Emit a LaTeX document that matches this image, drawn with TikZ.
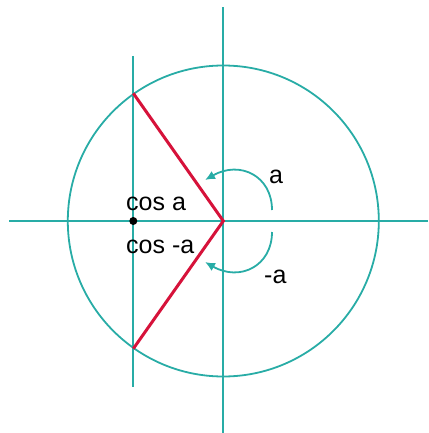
\documentclass[tikz,border=0pt]{standalone}
\usepackage{fontspec}
\setmainfont{Liberation Sans}
\usetikzlibrary{arrows.meta}
\definecolor{teal1}{RGB}{40,172,166}
\definecolor{red1}{RGB}{214,18,58}
\tikzset{
  axis/.style={draw=teal1, line width=1.8pt},
  radius line/.style={draw=red1, line width=3pt},
  angle arrow/.style={draw=teal1, line width=1.8pt, -{Latex[length=10pt,width=9pt]}},
  lbl/.style={font=\fontsize{25}{29}\selectfont, inner sep=0pt, anchor=base west}
}
\begin{document}
\begin{tikzpicture}[x=1pt,y=-1pt]
\useasboundingbox (0,0) rectangle (428,433);
\coordinate (O) at (223.3,221);
\coordinate (P) at (133.3,93.3);
\coordinate (Q) at (133.3,348.7);
\coordinate (D) at (133.3,221);
\coordinate (hL) at (9,221);
\coordinate (hR) at (428,221);
\coordinate (vT) at (223.3,7.5);
\coordinate (vB) at (223.3,433);
\coordinate (cT) at (133.3,56);
\coordinate (cB) at (133.3,386.5);
\draw[axis] (hL) -- (hR);
\draw[axis] (vT) -- (vB);
\draw[axis] (cT) -- (cB);
\draw[axis] (O) circle (155.5);
\draw[radius line] (P) -- (O) -- (Q);
\fill[black] (D) circle (4);
\coordinate (a1) at (272,210);
\coordinate (a2) at (205,180);
\coordinate (b1) at (272,232);
\coordinate (b2) at (205,262);
\draw[angle arrow] (a1) .. controls (272,176) and (240,160) .. (a2);
\draw[angle arrow] (b1) .. controls (272,266) and (240,282) .. (b2);
\node[lbl] (cosa) at (126,210) {cos a};
\node[lbl] (cosma) at (126,253) {cos -a};
\node[lbl] (la) at (269,183) {a};
\node[lbl] (lma) at (264,283) {-a};
\end{tikzpicture}
\end{document}
